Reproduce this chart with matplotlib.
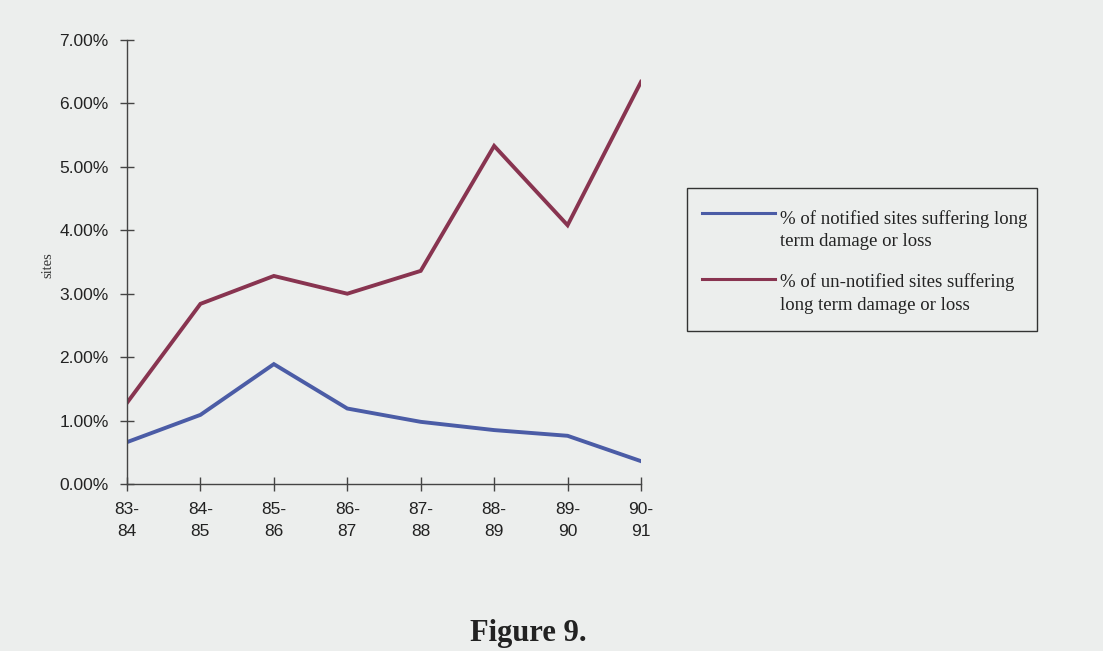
import matplotlib
matplotlib.use("Agg")
import matplotlib.pyplot as plt
from matplotlib.patches import Rectangle
from matplotlib.lines import Line2D
import numpy as np

years = ["83-\n84", "84-\n85", "85-\n86", "86-\n87", "87-\n88", "88-\n89", "89-\n90", "90-\n91"]
notified = [0.66, 1.09, 1.89, 1.19, 0.98, 0.85, 0.76, 0.36]
unnotified = [1.28, 2.84, 3.28, 3.00, 3.36, 5.33, 4.08, 6.34]

label_notified = "% of notified sites suffering long\nterm damage or loss"
label_unnotified = "% of un-notified sites suffering\nlong term damage or loss"

blue = "#4b5ca6"
red = "#883450"
bg = "#eceeed"
W, H = 1103, 651
fig = plt.figure(figsize=(W / 100, H / 100), dpi=100, facecolor=bg)
ax = fig.add_axes([127 / W, 1 - 484 / H, (641 - 127) / W, (484 - 40) / H])
ax.set_facecolor(bg)

x = np.arange(len(years))
ax.plot(x, notified, color=blue, lw=2.8, solid_joinstyle="miter")
ax.plot(x, unnotified, color=red, lw=2.8, solid_joinstyle="miter")

ax.set_xlim(0, len(years) - 1)
ax.set_ylim(0, 7)
ax.set_yticks(np.arange(0, 8))
ax.set_yticklabels([f"{v:.2f}%" for v in range(8)])
ax.set_xticks(x)
ax.set_xticklabels(years)

for s in ["top", "right"]:
    ax.spines[s].set_visible(False)
for s in ["left", "bottom"]:
    ax.spines[s].set_color("#444444")
    ax.spines[s].set_linewidth(1.0)

ax.tick_params(axis="y", direction="inout", length=9.5, width=1, color="#444444",
               labelsize=12.5, labelcolor="#222222", pad=8.5)
ax.tick_params(axis="x", direction="inout", length=9.5, width=1, color="#444444",
               labelsize=12.5, labelcolor="#222222", pad=8)
for lab in ax.get_xticklabels() + ax.get_yticklabels():
    lab.set_family("Liberation Sans")
    lab.set_linespacing(1.6)

fig.text(48 / W, 1 - 265 / H, "sites", rotation=90, family="Liberation Serif",
         fontsize=10.5, color="#333333", ha="center", va="center")

# legend: box, key lines and two-line labels (key aligned with the first line)
fig.patches.append(Rectangle((687 / W, 1 - 331 / H), (1037 - 687) / W, (331 - 188) / H,
                             transform=fig.transFigure, facecolor=bg,
                             edgecolor="#333333", lw=1.0))
entries = [(label_notified, blue, 213, 230), (label_unnotified, red, 279, 293.5)]
for text, color, key_y, text_y in entries:
    fig.add_artist(Line2D([702 / W, 775 / W], [1 - key_y / H] * 2,
                          transform=fig.transFigure, color=color, lw=2.2))
    fig.text(780 / W, 1 - text_y / H, text, family="Liberation Serif", fontsize=13.5,
             color="#222222", ha="left", va="center", linespacing=1.45)

fig.text(528 / W, 1 - 633 / H, "Figure 9.", family="Liberation Serif",
         fontweight="bold", fontsize=22, color="#222222", ha="center", va="center")

fig.savefig("out.png", dpi=100, facecolor=bg)
